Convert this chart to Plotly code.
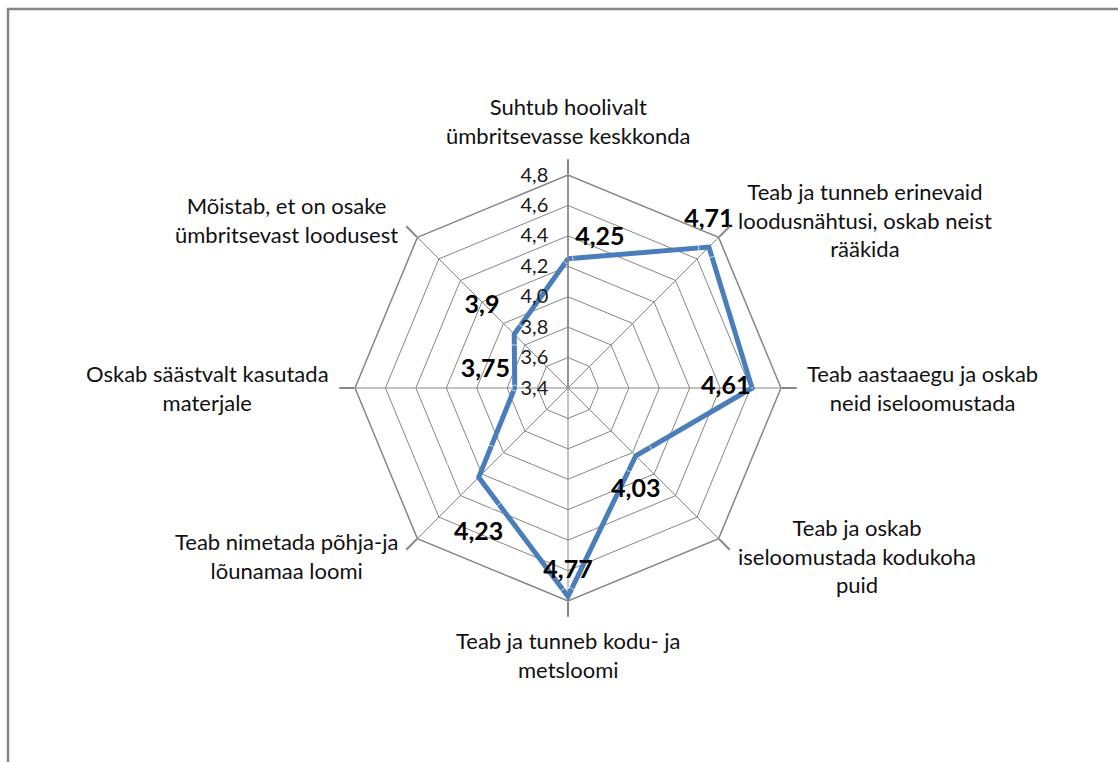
import math
import plotly.graph_objects as go

categories = [
    "Suhtub hoolivalt<br>ümbritsevasse keskkonda",
    "Teab ja tunneb erinevaid<br>loodusnähtusi, oskab neist<br>rääkida",
    "Teab aastaaegu ja oskab<br>neid iseloomustada",
    "Teab ja oskab<br>iseloomustada kodukoha<br>puid",
    "Teab ja tunneb kodu- ja<br>metsloomi",
    "Teab nimetada põhja-ja<br>lõunamaa loomi",
    "Oskab säästvalt kasutada<br>materjale",
    "Mõistab, et on osake<br>ümbritsevast loodusest",
]
values = [4.25, 4.71, 4.61, 4.03, 4.77, 4.23, 3.75, 3.9]

# styling for data-label placement (not data)
label_positions = ["top right", "top center", "middle left", "bottom center",
                   "top center", "bottom center", "top left", "top left"]
label_pad = [10, 21, 1, 34, 18, 68, 6, 22]

texts = [str(v).replace(".", ",") for v in values]

W, H = 1118, 762
cx, cy, R = 568, 388, 213
GRAY = "#868686"

fig = go.Figure()
fig.add_trace(go.Scatterpolar(
    r=values + [values[0]],
    theta=categories + [categories[0]],
    mode="lines",
    line=dict(color="#4A7EBB", width=5),
    hoverinfo="skip",
))
fig.add_trace(go.Scatterpolar(
    r=values,
    theta=categories,
    mode="markers+text",
    marker=dict(size=label_pad, color="rgba(0,0,0,0)"),
    text=texts,
    textposition=label_positions,
    textfont=dict(family="Lato", size=25, color="#000000", weight="bold"),
    hoverinfo="skip",
))

# category labels (centred multi-line text) placed just outside the polygon
annotations = []
n = len(categories)
for i, cat in enumerate(categories):
    a = 2 * math.pi * i / n
    s, c = math.sin(a), math.cos(a)
    rr = R + 24
    px, py = cx + rr * s, cy - rr * c
    xanchor = "left" if s > 0.1 else ("right" if s < -0.1 else "center")
    if abs(s) < 0.1:
        yanchor = "bottom" if c > 0 else "top"
    else:
        yanchor = "middle"
    annotations.append(dict(
        text=cat, x=px / W, y=1 - py / H, xref="paper", yref="paper",
        xanchor=xanchor, yanchor=yanchor, align="center", showarrow=False,
        font=dict(family="Lato", size=22, color="#111111"),
    ))

fig.update_layout(
    width=W, height=H,
    margin=dict(l=0, r=0, t=0, b=0),
    paper_bgcolor="white",
    showlegend=False,
    separators=", ",
    font=dict(family="Lato", size=17, color="#1a1a1a"),
    annotations=annotations,
    polar=dict(
        domain=dict(x=[(cx - R) / W, (cx + R) / W],
                    y=[(H - cy - R) / H, (H - cy + R) / H]),
        gridshape="linear",
        bgcolor="white",
        radialaxis=dict(
            range=[3.4, 4.8], dtick=0.2, tick0=3.4, tickformat=".1f",
            angle=90, side="counterclockwise", tickangle=90,
            showline=True, linecolor=GRAY, linewidth=1.5,
            gridcolor=GRAY, gridwidth=1.3,
            ticks="outside", ticklen=12, tickcolor="rgba(0,0,0,0)",
            tickfont=dict(family="Lato", size=20, color="#1a1a1a"),
        ),
        angularaxis=dict(
            rotation=90, direction="clockwise",
            showline=True, linecolor=GRAY, linewidth=1.5,
            gridcolor=GRAY, gridwidth=1.3,
            ticks="outside", ticklen=15, tickcolor=GRAY, tickwidth=1.5,
            showticklabels=False,
        ),
    ),
    shapes=[dict(type="rect", xref="paper", yref="paper",
                 x0=8 / W, x1=1.05, y0=-0.05, y1=1 - 9 / H,
                 line=dict(color=GRAY, width=2.5))],
)

fig.write_html("out.html", config={"displayModeBar": False},
               post_script="document.body.style.margin='0';")
